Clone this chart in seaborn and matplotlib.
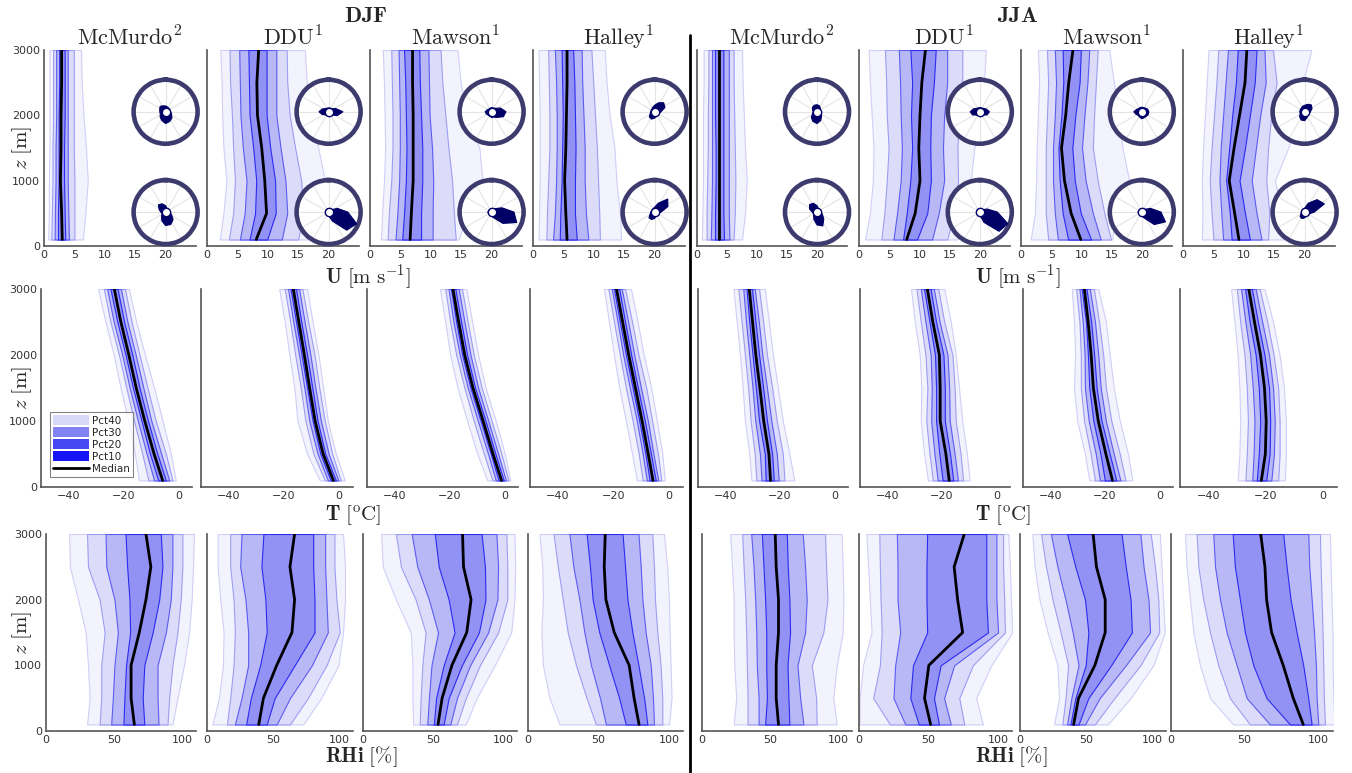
import numpy as np
import matplotlib
matplotlib.use('Agg')
import matplotlib.pyplot as plt
from matplotlib.patches import Patch
from matplotlib.lines import Line2D
import seaborn as sns

sns.set_style('white')
plt.rcParams['font.family'] = ['DejaVu Sans']
plt.rcParams['mathtext.fontset'] = 'cm'

# alturas de los perfiles [m]
z_levels = [100, 500, 1000, 1500, 2000, 2500, 3000]

# percentiles p10..p90 por altura (una fila por cada z_levels)
# --- viento U [m s-1]
u_djf_mcmurdo = [[0.7, 1.2, 1.75, 2.3, 3.0, 3.5, 4.1, 5.0, 6.4],
                 [0.8, 1.3, 1.8, 2.3, 2.9, 3.4, 4.0, 5.0, 6.8],
                 [0.8, 1.4, 1.9, 2.4, 2.7, 3.3, 3.9, 5.0, 7.2],
                 [0.9, 1.4, 1.9, 2.4, 2.8, 3.3, 3.9, 4.9, 6.9],
                 [0.9, 1.5, 2.0, 2.4, 2.8, 3.4, 3.9, 4.9, 6.5],
                 [0.9, 1.5, 2.0, 2.5, 2.9, 3.4, 3.9, 4.9, 6.2],
                 [0.9, 1.5, 2.0, 2.5, 2.9, 3.4, 3.9, 4.9, 6.1]]
u_djf_ddu = [[2.1, 3.6, 5.4, 7.0, 8.1, 9.9, 12.3, 15.0, 17.2],
             [2.7, 4.3, 6.2, 7.9, 9.8, 11.3, 13.2, 15.8, 18.3],
             [3.2, 4.6, 6.5, 8.1, 9.5, 11.2, 12.9, 15.5, 19.4],
             [2.7, 4.3, 5.9, 7.6, 9.0, 10.4, 12.1, 14.5, 18.3],
             [2.5, 4.1, 5.5, 7.0, 8.3, 9.8, 11.4, 13.6, 17.2],
             [2.4, 3.8, 5.4, 6.9, 8.2, 9.8, 11.4, 13.2, 16.4],
             [2.2, 3.7, 5.3, 6.8, 8.5, 9.8, 11.4, 13.1, 16.1]]
u_djf_mawson = [[1.8, 2.9, 4.2, 5.3, 6.6, 8.4, 10.3, 14.1, 14.6],
                [2.0, 3.1, 4.5, 5.6, 6.8, 8.4, 10.3, 13.8, 16.0],
                [2.3, 3.5, 4.8, 5.9, 7.1, 8.6, 10.4, 13.5, 18.5],
                [2.5, 3.7, 4.9, 6.0, 7.1, 8.6, 10.2, 12.9, 18.0],
                [2.4, 3.7, 4.9, 5.9, 7.1, 8.4, 9.8, 12.4, 16.0],
                [2.3, 3.6, 4.8, 5.8, 7.0, 8.2, 9.7, 11.9, 14.9],
                [2.1, 3.5, 4.7, 5.6, 7.0, 8.1, 9.6, 11.6, 14.4]]
u_djf_halley = [[0.9, 2.2, 3.3, 4.4, 5.6, 7.2, 9.1, 11.0, 14.5],
                [1.0, 2.3, 3.6, 4.5, 5.4, 6.9, 8.7, 10.9, 14.3],
                [1.1, 2.5, 3.8, 4.7, 5.2, 6.9, 8.5, 10.7, 13.7],
                [1.1, 2.7, 3.9, 4.8, 5.4, 7.0, 8.5, 10.5, 13.4],
                [1.1, 2.7, 3.9, 4.9, 5.5, 6.9, 8.3, 10.2, 12.6],
                [1.0, 2.6, 3.8, 4.8, 5.6, 6.8, 8.1, 9.9, 12.1],
                [0.9, 2.5, 3.6, 4.7, 5.6, 6.6, 8.0, 9.6, 11.8]]
u_jja_mcmurdo = [[0.8, 1.6, 2.3, 3.0, 3.7, 4.5, 5.4, 6.1, 7.5],
                 [0.9, 1.6, 2.4, 3.0, 3.7, 4.4, 5.3, 6.3, 8.0],
                 [1.0, 1.7, 2.5, 3.1, 3.7, 4.4, 5.3, 6.4, 8.3],
                 [1.0, 1.8, 2.5, 3.1, 3.7, 4.4, 5.3, 6.3, 8.0],
                 [1.0, 1.8, 2.5, 3.0, 3.7, 4.4, 5.3, 6.2, 7.8],
                 [1.1, 1.9, 2.5, 3.0, 3.7, 4.4, 5.3, 6.1, 7.6],
                 [1.1, 1.9, 2.5, 3.0, 3.7, 4.4, 5.3, 6.1, 7.5]]
u_jja_ddu = [[1.0, 3.7, 5.7, 7.3, 7.9, 9.6, 12.1, 14.6, 16.3],
             [1.8, 4.2, 6.3, 7.9, 9.3, 11.3, 13.2, 15.7, 17.4],
             [2.3, 4.6, 6.9, 8.5, 10.1, 11.9, 14.1, 16.4, 18.5],
             [2.4, 4.9, 7.1, 8.8, 9.9, 11.8, 13.9, 16.3, 19.1],
             [2.1, 4.6, 6.9, 8.6, 10.1, 11.9, 14.1, 16.6, 20.2],
             [1.8, 4.5, 6.8, 8.8, 10.4, 12.4, 14.6, 17.1, 20.7],
             [1.6, 4.3, 6.6, 8.5, 11.0, 12.7, 14.6, 17.1, 21.0]]
u_jja_mawson = [[1.6, 4.5, 6.1, 7.8, 9.9, 11.6, 13.2, 14.9, 15.1],
                [2.3, 4.1, 5.6, 6.9, 8.3, 9.9, 11.9, 13.8, 15.7],
                [2.5, 4.1, 5.3, 6.4, 7.2, 8.9, 10.7, 12.7, 17.9],
                [2.6, 4.1, 5.3, 6.2, 6.7, 8.5, 10.1, 11.9, 16.8],
                [2.8, 4.3, 5.6, 6.7, 7.4, 9.0, 10.5, 12.1, 16.2],
                [3.0, 4.5, 5.8, 7.0, 7.9, 9.7, 11.0, 12.4, 15.4],
                [2.8, 4.3, 5.6, 6.9, 8.6, 9.9, 11.3, 12.7, 14.6]]
u_jja_halley = [[3.1, 5.0, 6.6, 8.0, 9.2, 11.0, 12.9, 14.0, 16.7],
                [3.2, 4.7, 6.3, 7.7, 8.5, 10.2, 12.1, 14.2, 16.4],
                [3.1, 4.4, 6.0, 7.1, 7.6, 9.3, 11.3, 13.7, 15.1],
                [3.3, 4.7, 6.2, 7.6, 8.4, 10.2, 12.0, 14.0, 17.3],
                [3.6, 5.1, 6.6, 8.1, 9.3, 11.0, 12.7, 14.5, 18.9],
                [3.9, 5.5, 7.0, 8.7, 10.2, 11.8, 13.6, 15.4, 19.7],
                [4.2, 5.8, 7.4, 9.0, 10.5, 12.1, 13.4, 14.8, 21.1]]

# --- temperatura T [oC]
t_djf_mcmurdo = [[-14.3, -10.9, -8.8, -7.3, -5.7, -4.5, -3.3, -2.1, -0.9],
                 [-15.8, -13.1, -11.5, -10.3, -8.8, -7.6, -6.2, -4.5, -2.7],
                 [-18.2, -16.1, -14.7, -13.4, -12.2, -11.0, -9.8, -8.2, -5.7],
                 [-21.0, -18.9, -17.7, -16.5, -15.3, -14.1, -12.7, -11.2, -8.8],
                 [-23.5, -21.6, -20.4, -19.2, -18.0, -16.7, -15.5, -14.1, -12.1],
                 [-26.5, -24.7, -23.5, -22.2, -20.9, -19.7, -18.5, -17.0, -15.3],
                 [-29.2, -27.1, -25.9, -24.7, -23.3, -22.1, -20.9, -19.4, -18.0]]
t_djf_ddu = [[-7.0, -5.2, -4.1, -3.1, -2.1, -1.2, -0.3, 0.6, 2.0],
             [-11.6, -9.3, -7.8, -6.8, -5.8, -5.0, -3.8, -2.5, -1.2],
             [-15.1, -12.2, -10.8, -9.6, -8.7, -7.8, -6.6, -5.2, -4.1],
             [-16.2, -13.9, -12.6, -11.6, -10.7, -9.7, -8.6, -7.2, -5.8],
             [-18.0, -15.9, -14.5, -13.6, -12.6, -11.6, -10.4, -8.9, -7.5],
             [-19.7, -17.7, -16.6, -15.6, -14.6, -13.7, -12.5, -11.2, -9.6],
             [-21.7, -19.7, -18.5, -17.6, -16.6, -15.6, -14.5, -13.3, -11.6]]
t_djf_mawson = [[-6.2, -4.3, -3.1, -2.1, -1.0, -0.2, 0.6, 1.5, 2.2],
                [-9.8, -7.4, -5.9, -4.9, -4.1, -3.2, -2.2, -1.0, 0.2],
                [-13.5, -11.1, -9.6, -8.6, -7.7, -6.8, -5.8, -4.6, -3.1],
                [-17.0, -14.5, -13.3, -12.3, -11.4, -10.6, -9.5, -8.2, -6.8],
                [-19.7, -17.5, -16.2, -15.3, -14.4, -13.5, -12.3, -11.1, -9.5],
                [-21.5, -19.7, -18.5, -17.5, -16.6, -15.7, -14.5, -13.3, -11.7],
                [-23.4, -21.5, -20.3, -19.4, -18.7, -17.8, -16.6, -15.4, -13.8]]
t_djf_halley = [[-11.6, -9.5, -8.0, -7.0, -5.8, -4.8, -3.9, -2.8, -1.6],
                [-13.3, -10.9, -9.5, -8.5, -7.5, -6.5, -5.6, -4.0, -2.4],
                [-15.5, -13.1, -11.6, -10.7, -9.7, -8.7, -7.6, -6.1, -4.4],
                [-17.9, -15.5, -14.1, -13.1, -12.1, -11.2, -10.1, -8.2, -6.4],
                [-19.8, -17.7, -16.5, -15.5, -14.5, -13.6, -12.5, -11.0, -9.1],
                [-21.6, -19.8, -18.5, -17.7, -16.7, -15.8, -14.7, -13.3, -11.3],
                [-23.4, -21.8, -20.6, -19.8, -18.9, -17.9, -17.0, -15.8, -13.7]]
t_jja_mcmurdo = [[-30.4, -28.6, -26.7, -25.2, -23.4, -22.2, -20.4, -18.3, -14.7],
                 [-31.2, -29.2, -27.3, -25.5, -24.0, -22.8, -21.1, -18.9, -16.5],
                 [-32.8, -30.7, -29.0, -27.6, -25.9, -24.7, -23.1, -21.1, -18.9],
                 [-33.6, -31.6, -30.0, -28.8, -27.3, -26.1, -24.7, -22.8, -20.7],
                 [-34.6, -32.8, -31.2, -30.0, -28.8, -27.6, -26.4, -24.7, -22.5],
                 [-35.8, -34.0, -32.4, -31.2, -30.0, -28.9, -27.7, -26.1, -24.0],
                 [-37.0, -35.2, -33.4, -32.2, -31.2, -30.2, -29.2, -27.6, -25.5]]
t_jja_ddu = [[-25.1, -23.3, -21.5, -19.7, -17.3, -15.8, -14.1, -12.2, -9.8],
             [-26.5, -24.5, -22.7, -20.9, -18.5, -17.0, -15.3, -13.1, -10.8],
             [-27.7, -25.7, -23.9, -22.1, -20.6, -18.9, -17.1, -14.9, -12.5],
             [-27.5, -25.3, -23.7, -22.1, -20.6, -18.9, -17.3, -15.3, -13.7],
             [-28.1, -26.0, -24.1, -22.5, -20.9, -19.4, -17.9, -16.1, -14.9],
             [-29.9, -27.7, -26.0, -24.5, -23.3, -22.1, -20.8, -19.1, -16.7],
             [-31.3, -29.3, -27.7, -26.5, -25.3, -24.1, -22.9, -21.3, -19.1]]
t_jja_mawson = [[-25.7, -23.6, -21.8, -20.0, -17.2, -15.8, -14.3, -12.4, -9.9],
                [-27.3, -25.2, -23.3, -21.6, -19.6, -18.2, -16.7, -14.5, -11.5],
                [-30.1, -27.6, -25.9, -24.2, -22.4, -21.2, -19.6, -17.6, -14.5],
                [-31.3, -28.8, -27.3, -25.7, -24.2, -23.0, -21.5, -19.6, -16.7],
                [-30.9, -28.8, -27.4, -26.2, -25.0, -23.9, -22.4, -20.6, -18.2],
                [-31.3, -29.3, -28.1, -26.9, -26.1, -25.0, -23.6, -22.1, -19.6],
                [-32.1, -30.5, -29.3, -28.5, -27.5, -26.7, -25.5, -24.0, -22.4]]
t_jja_halley = [[-29.8, -27.1, -24.7, -23.1, -21.5, -19.8, -18.0, -15.6, -13.3],
                [-29.2, -26.6, -24.2, -22.4, -20.1, -18.6, -17.1, -15.1, -12.9],
                [-28.9, -26.2, -23.9, -21.9, -19.8, -18.4, -16.8, -15.1, -12.9],
                [-29.2, -26.6, -24.5, -22.4, -20.4, -18.8, -17.4, -15.6, -13.6],
                [-29.8, -27.4, -25.4, -23.5, -21.8, -20.4, -18.8, -17.2, -15.1],
                [-30.9, -28.9, -27.1, -25.6, -23.9, -22.7, -21.2, -19.4, -17.4],
                [-32.1, -30.1, -28.6, -27.2, -25.9, -24.8, -23.5, -22.1, -20.4]]

# --- humedad relativa respecto al hielo RHi [%]
rh_djf_mcmurdo = [[30.1, 39.3, 47.8, 56.8, 64.8, 72.1, 82.5, 89.1, 92.7],
                  [32.0, 40.5, 49.0, 57.5, 62.4, 70.9, 81.8, 90.3, 96.4],
                  [30.8, 40.5, 50.2, 58.7, 62.4, 72.1, 81.8, 92.7, 101.2],
                  [29.1, 43.0, 52.7, 61.7, 68.4, 78.2, 87.9, 96.4, 104.9],
                  [23.5, 39.3, 50.2, 61.2, 73.3, 83.0, 91.5, 98.8, 106.8],
                  [17.5, 30.8, 44.2, 59.5, 76.9, 85.4, 92.7, 100.0, 107.8],
                  [17.0, 30.1, 43.7, 58.3, 73.3, 84.2, 92.7, 100.0, 108.5]]
rh_djf_ddu = [[4.0, 15.0, 21.0, 29.5, 39.0, 45.0, 52.5, 62.5, 72.5],
              [9.0, 17.5, 26.0, 33.0, 42.5, 51.0, 62.5, 76.0, 86.0],
              [12.0, 20.0, 31.0, 40.0, 52.5, 66.0, 79.0, 90.0, 99.0],
              [12.5, 21.0, 31.0, 45.0, 64.0, 81.0, 91.0, 100.0, 102.5],
              [10.0, 20.0, 29.0, 44.0, 66.0, 81.0, 90.0, 97.5, 104.0],
              [8.0, 17.5, 25.0, 41.0, 62.5, 80.0, 89.0, 96.0, 104.0],
              [8.0, 17.5, 26.0, 42.5, 66.0, 80.0, 89.0, 96.0, 102.5]]
rh_djf_mawson = [[35.8, 40.5, 45.9, 50.6, 53.6, 57.6, 62.4, 67.1, 73.4],
                 [35.3, 41.2, 47.1, 52.2, 56.5, 61.2, 67.1, 73.4, 81.2],
                 [35.3, 42.4, 48.9, 57.6, 63.5, 70.6, 76.5, 83.5, 94.1],
                 [34.1, 44.7, 53.6, 65.4, 74.1, 82.8, 89.4, 96.5, 105.9],
                 [23.5, 37.6, 47.1, 61.2, 77.2, 87.5, 96.0, 103.1, 108.2],
                 [14.1, 27.1, 38.8, 54.1, 71.8, 87.1, 96.5, 103.1, 108.7],
                 [12.9, 23.5, 34.8, 51.3, 71.1, 84.7, 95.3, 102.4, 108.2]]
rh_djf_halley = [[22.4, 48.2, 55.3, 69.4, 78.8, 84.7, 89.4, 95.3, 100.0],
                 [15.3, 41.6, 51.1, 64.7, 75.3, 82.4, 88.7, 95.3, 101.9],
                 [10.6, 34.1, 44.7, 57.6, 71.8, 78.4, 87.1, 94.1, 101.2],
                 [9.4, 28.2, 40.0, 50.6, 61.2, 74.1, 83.5, 91.8, 100.5],
                 [10.6, 24.7, 36.5, 45.9, 55.3, 70.6, 81.2, 90.1, 100.0],
                 [10.1, 21.2, 32.2, 44.0, 54.1, 68.9, 80.0, 89.4, 98.8],
                 [8.2, 18.1, 29.4, 41.6, 54.8, 67.1, 78.4, 88.2, 96.5]]
rh_jja_mcmurdo = [[23.2, 33.4, 41.5, 46.3, 56.1, 64.1, 74.4, 84.1, 98.8],
                  [25.1, 33.4, 41.5, 47.6, 54.4, 63.4, 72.0, 83.7, 96.3],
                  [23.7, 32.9, 40.2, 47.1, 54.4, 62.7, 70.0, 80.5, 98.8],
                  [23.2, 32.4, 39.8, 47.1, 56.1, 64.6, 75.6, 89.0, 103.2],
                  [23.2, 31.7, 39.0, 46.3, 56.1, 64.1, 76.8, 92.0, 103.7],
                  [22.0, 30.5, 37.8, 45.1, 54.4, 62.9, 75.6, 91.0, 103.2],
                  [20.7, 29.5, 36.1, 43.9, 53.7, 62.2, 73.9, 90.2, 102.4]]
rh_jja_ddu = [[0.5, 22.3, 33.3, 43.0, 51.5, 57.5, 66.0, 75.7, 89.1],
              [0.5, 10.2, 24.8, 36.9, 47.1, 53.9, 61.2, 72.1, 84.2],
              [2.9, 15.0, 26.0, 38.8, 50.2, 58.7, 68.4, 81.8, 95.1],
              [9.0, 16.3, 29.6, 49.0, 74.5, 92.7, 100.0, 104.9, 110.2],
              [7.8, 15.5, 27.7, 48.5, 70.9, 91.5, 98.8, 104.4, 109.2],
              [6.6, 15.0, 27.7, 48.5, 68.4, 91.5, 98.8, 103.6, 108.5],
              [5.3, 14.6, 27.2, 49.0, 75.7, 91.5, 98.8, 103.6, 107.3]]
rh_jja_mawson = [[25.7, 31.9, 35.5, 38.0, 40.4, 44.1, 49.0, 56.4, 66.2],
                 [29.4, 34.3, 38.7, 41.7, 44.1, 51.5, 60.0, 71.1, 83.3],
                 [28.2, 36.3, 44.1, 49.5, 56.4, 68.6, 79.7, 90.7, 100.5],
                 [20.8, 30.6, 39.7, 51.5, 64.2, 84.3, 98.0, 104.9, 109.1],
                 [14.7, 24.5, 34.3, 49.0, 64.2, 83.3, 96.8, 104.2, 107.8],
                 [11.0, 19.6, 28.2, 41.7, 57.6, 79.7, 93.1, 101.7, 106.6],
                 [9.3, 15.9, 23.3, 35.5, 55.1, 76.5, 90.7, 98.5, 105.4]]
rh_jja_halley = [[42.3, 53.6, 67.2, 80.8, 89.8, 95.5, 100.0, 104.5, 111.0],
                 [26.5, 40.0, 51.4, 64.9, 83.0, 93.2, 98.9, 103.8, 110.2],
                 [19.7, 32.1, 44.6, 55.9, 76.2, 89.8, 98.4, 103.4, 109.7],
                 [15.2, 26.5, 37.8, 50.2, 68.3, 85.3, 97.1, 102.9, 109.7],
                 [12.9, 21.9, 33.3, 46.8, 64.9, 81.2, 95.5, 102.3, 109.0],
                 [10.6, 18.6, 29.9, 43.4, 63.8, 78.5, 93.9, 101.6, 108.4],
                 [9.5, 17.4, 28.7, 41.9, 60.9, 76.2, 93.2, 101.1, 107.9]]

# rosas de viento: radio relativo por sector (N, NNE, NE, ... NNW)
rose_dirs = np.arange(0, 360, 22.5)
rose_djf_mcmurdo_hi = [.18, .16, .15, .15, .16, .2, .28, .33, .37, .3, .24, .18, .18, .2, .24, .2]
rose_djf_mcmurdo_lo = [.2, .12, .1, .1, .12, .2, .33, .42, .42, .3, .18, .12, .15, .22, .32, .28]
rose_djf_ddu_hi = [.12, .12, .14, .25, .45, .3, .15, .12, .12, .12, .14, .22, .3, .22, .14, .12]
rose_djf_ddu_lo = [.1, .1, .1, .3, .6, .95, .8, .3, .1, .08, .08, .08, .1, .1, .1, .1]
rose_djf_mawson_hi = [.13, .13, .15, .3, .45, .4, .25, .18, .18, .15, .15, .18, .2, .15, .12, .12]
rose_djf_mawson_lo = [.1, .1, .15, .35, .7, .85, .5, .2, .12, .1, .1, .1, .12, .1, .1, .1]
rose_djf_halley_hi = [.2, .3, .4, .35, .2, .15, .12, .15, .2, .25, .23, .15, .12, .12, .12, .15]
rose_djf_halley_lo = [.15, .3, .58, .45, .2, .12, .1, .12, .2, .25, .25, .15, .12, .1, .1, .12]
rose_jja_mcmurdo_hi = [.22, .2, .15, .12, .12, .15, .2, .3, .37, .33, .25, .15, .12, .15, .2, .22]
rose_jja_mcmurdo_lo = [.2, .12, .1, .1, .12, .18, .3, .47, .4, .25, .15, .12, .15, .25, .33, .3]
rose_jja_ddu_hi = [.13, .13, .15, .22, .3, .25, .15, .12, .12, .12, .15, .25, .3, .22, .15, .13]
rose_jja_ddu_lo = [.1, .1, .1, .25, .55, .95, .85, .35, .1, .08, .08, .08, .1, .1, .1, .1]
rose_jja_mawson_hi = [.14, .14, .16, .2, .22, .22, .2, .2, .22, .18, .16, .2, .25, .18, .14, .14]
rose_jja_mawson_lo = [.1, .1, .12, .3, .6, .8, .55, .2, .12, .1, .1, .1, .12, .1, .1, .1]
rose_jja_halley_hi = [.2, .25, .3, .25, .18, .15, .15, .2, .28, .28, .22, .15, .15, .15, .15, .18]
rose_jja_halley_lo = [.12, .3, .55, .67, .3, .15, .1, .12, .18, .22, .2, .12, .1, .1, .1, .1]

stations = ['McMurdo', 'DDU', 'Mawson', 'Halley']
station_refs = [2, 1, 1, 1]
seasons = ['DJF', 'JJA']

u_profiles = [u_djf_mcmurdo, u_djf_ddu, u_djf_mawson, u_djf_halley,
              u_jja_mcmurdo, u_jja_ddu, u_jja_mawson, u_jja_halley]
t_profiles = [t_djf_mcmurdo, t_djf_ddu, t_djf_mawson, t_djf_halley,
              t_jja_mcmurdo, t_jja_ddu, t_jja_mawson, t_jja_halley]
rh_profiles = [rh_djf_mcmurdo, rh_djf_ddu, rh_djf_mawson, rh_djf_halley,
               rh_jja_mcmurdo, rh_jja_ddu, rh_jja_mawson, rh_jja_halley]
roses_hi = [rose_djf_mcmurdo_hi, rose_djf_ddu_hi, rose_djf_mawson_hi, rose_djf_halley_hi,
            rose_jja_mcmurdo_hi, rose_jja_ddu_hi, rose_jja_mawson_hi, rose_jja_halley_hi]
roses_lo = [rose_djf_mcmurdo_lo, rose_djf_ddu_lo, rose_djf_mawson_lo, rose_djf_halley_lo,
            rose_jja_mcmurdo_lo, rose_jja_ddu_lo, rose_jja_mawson_lo, rose_jja_halley_lo]

# colores de las bandas (Pct40, Pct30, Pct20, Pct10)
fill_cols = ['#f3f3fe', '#dcdcfa', '#b8b8f7', '#9292f5']
edge_cols = ['#cfcff7', '#9d9df2', '#5c5cf0', '#2b2bf0']
legend_cols = ['#d8d8f8', '#8282f2', '#4646f2', '#1414f6']
rose_ring = '#3d3b6e'
rose_blob = '#000066'

W, H = 1352, 773
fig = plt.figure(figsize=(W / 100, H / 100), dpi=100)

# posicion de los paneles en pixeles (izq, der) por fila, (arriba, abajo) por fila
row_tb = [(50, 246), (289, 487), (534, 731)]
row_lr = [[(44, 196), (207, 359), (370, 522), (533, 685), (697, 847), (859, 1010), (1021, 1172), (1183, 1335)],
          [(41, 192), (201, 353), (367, 518), (530, 683), (698, 848), (860, 1010), (1023, 1173), (1180, 1337)],
          [(46, 196), (207, 353), (363, 517), (528, 683), (702, 852), (859, 1012), (1020, 1166), (1171, 1333)]]
row_xlim = [(0, 25), (-50, 5), (0, 110)]
row_xticks = [[0, 5, 10, 15, 20], [-40, -20, 0], [0, 50, 100]]
row_data = [u_profiles, t_profiles, rh_profiles]


def draw_profile(ax, prof):
    p = np.array(prof).T
    z = np.array(z_levels)
    for k in range(4):
        ax.fill_betweenx(z, p[k], p[8 - k], facecolor=fill_cols[k],
                         edgecolor=edge_cols[k], lw=0.8)
    sns.lineplot(x=p[4], y=z, orient='y', sort=False, estimator=None,
                 color='black', lw=2, ax=ax)


def draw_rose(ax, r_vals, cy, ax_w, ax_h):
    d = 64.0
    w, h = d / ax_w, d / ax_h
    pax = ax.inset_axes([0.8 - w / 2, cy - h / 2, w, h], projection='polar')
    pax.set_theta_zero_location('N')
    pax.set_theta_direction(-1)
    th = np.deg2rad(list(rose_dirs) + [rose_dirs[0]])
    rr = list(r_vals) + [r_vals[0]]
    pax.fill(th, rr, color=rose_blob, lw=0.8, zorder=3)
    pax.plot([0], [0], 'o', ms=6, mfc='white', mec=rose_blob, mew=1.0, zorder=4)
    pax.set_ylim(0, 1)
    pax.set_xticks(np.deg2rad(np.arange(0, 360, 30)))
    pax.set_xticklabels([])
    pax.set_yticks([])
    pax.grid(True, color='#e4e4e4', lw=0.8)
    pax.spines['polar'].set_color(rose_ring)
    pax.spines['polar'].set_linewidth(3.3)
    pax.set_facecolor('white')


axes_grid = []
for r in range(3):
    top, bot = row_tb[r]
    row_axes = []
    for c in range(8):
        left, right = row_lr[r][c]
        ax = fig.add_axes([left / W, 1 - bot / H, (right - left) / W, (bot - top) / H])
        draw_profile(ax, row_data[r][c])
        ax.set_xlim(*row_xlim[r])
        ax.set_ylim(0, 3000)
        ax.set_xticks(row_xticks[r])
        ax.set_yticks([0, 1000, 2000, 3000])
        if c != 0:
            ax.set_yticklabels([])
        ax.set_xlabel('')
        ax.set_ylabel('')
        for s in ['top', 'right']:
            ax.spines[s].set_visible(False)
        for s in ['left', 'bottom']:
            ax.spines[s].set_color('#555555')
            ax.spines[s].set_linewidth(1.2)
        ax.tick_params(direction='in', length=2.5, width=0.8, colors='#555555',
                       labelsize=8, labelcolor='#333333', pad=3)
        if r == 0:
            draw_rose(ax, roses_hi[c], 0.685, right - left, bot - top)
            draw_rose(ax, roses_lo[c], 0.173, right - left, bot - top)
            fig.text((left + right) / 2 / W + 10 / W, 1 - 45 / H,
                     r'$\mathrm{%s}^{%d}$' % (stations[c % 4], station_refs[c % 4]),
                     ha='center', va='baseline', fontsize=16)
        row_axes.append(ax)
    axes_grid.append(row_axes)
    # etiqueta del eje y
    fig.text(22 / W, 1 - (top + bot) / 2 / H, r'$z\ [\mathrm{m}]$', rotation=90,
             ha='center', va='center', fontsize=15)

# leyenda
handles = [Patch(facecolor=col, edgecolor='none', label=lab)
           for col, lab in zip(legend_cols, ['Pct40', 'Pct30', 'Pct20', 'Pct10'])]
handles.append(Line2D([0], [0], color='black', lw=2, label='Median'))
leg = axes_grid[1][0].legend(handles=handles, loc='lower left', bbox_to_anchor=(0.06, 0.05),
                             fontsize=7.5, handlelength=3.4, handleheight=1.1,
                             labelspacing=0.15, handletextpad=0.3, borderpad=0.3,
                             borderaxespad=0, frameon=True, fancybox=False)
leg.get_frame().set_edgecolor('#666666')
leg.get_frame().set_linewidth(0.8)

# titulos de estacion del anio
fig.text(366 / W, 1 - 16 / H, r'$\mathbf{DJF}$', ha='center', va='center', fontsize=16)
fig.text(1018 / W, 1 - 16 / H, r'$\mathbf{JJA}$', ha='center', va='center', fontsize=16)

# etiquetas de los ejes x
xlabels = [r'$\mathbf{U}\ [\mathrm{m\ s^{-1}}]$', r'$\mathbf{T}\ [^{\mathrm{o}}\mathrm{C}]$',
           r'$\mathbf{RHi}\ [\%]$']
xlabel_y = [277, 515, 757]
for lab, yy in zip(xlabels, xlabel_y):
    for x0 in [325, 975]:
        fig.text(x0 / W, 1 - yy / H, lab, ha='left', va='center', fontsize=15)

# separador DJF / JJA
fig.add_artist(Line2D([690 / W, 690 / W], [1 - 35 / H, 0], color='black', lw=2))

fig.savefig('out.png', dpi=100)
